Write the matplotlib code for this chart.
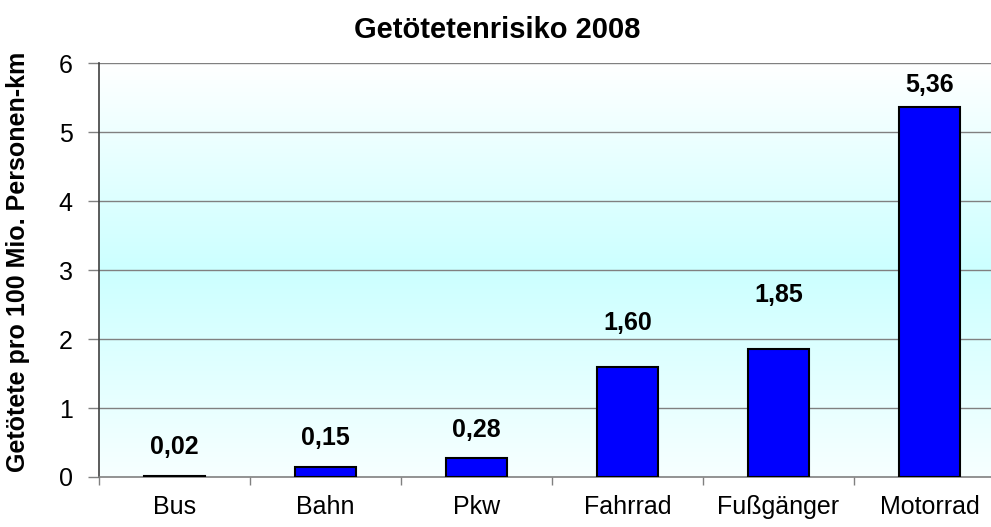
import numpy as np
import matplotlib
matplotlib.use("Agg")
import matplotlib.pyplot as plt
from matplotlib.colors import LinearSegmentedColormap

categories = ["Bus", "Bahn", "Pkw", "Fahrrad", "Fußgänger", "Motorrad"]
values = [0.02, 0.15, 0.28, 1.60, 1.85, 5.36]
value_labels = ["0,02", "0,15", "0,28", "1,60", "1,85", "5,36"]
y_ticks = [0, 1, 2, 3, 4, 5, 6]

# style: vertical placement of data labels above bar tops (data units)
label_offsets = [0.41, 0.41, 0.40, 0.63, 0.79, 0.32]

plt.rcParams['font.family'] = ['Liberation Sans', 'DejaVu Sans']

fig = plt.figure(figsize=(9.91, 5.27), dpi=100)
ax = fig.add_axes([99/991, 1 - 477/527, (1005 - 99)/991, (477 - 63)/527])

n = len(categories)
x = np.arange(n)
ax.set_xlim(-0.5, n - 0.5)
ax.set_ylim(0, 6)

# gradient background
cmap = LinearSegmentedColormap.from_list(
    "bg", [(0.0, "#F7FFFF"), (0.5, "#CCFFFF"), (1.0, "#FFFFFF")])
grad = np.linspace(0, 1, 256).reshape(-1, 1)
ax.imshow(grad, aspect="auto", cmap=cmap, origin="lower",
          extent=(-0.5, n - 0.5, 0, 6), zorder=0)

for yv in y_ticks[1:]:
    ax.axhline(yv, color="#808080", lw=1.0, zorder=1)

ax.bar(x, values, width=0.41, color="#0000FF", edgecolor="black",
       linewidth=1.5, zorder=3)

for xi, v, lab, off in zip(x, values, value_labels, label_offsets):
    ax.text(xi, v + off, lab, ha="center", va="center", fontsize=18,
            fontweight="bold", color="black", zorder=4)

ax.set_yticks(y_ticks)
ax.set_yticklabels([str(t) for t in y_ticks], fontsize=18)
ax.set_xticks(x)
ax.set_xticklabels(categories, fontsize=18)
ax.set_xticks(np.arange(n + 1) - 0.5, minor=True)
ax.tick_params(axis="x", which="major", length=0, pad=13)
ax.tick_params(axis="x", which="minor", length=6, width=1, color="#808080", direction="out")
ax.tick_params(axis="y", length=8, width=1, color="#808080", pad=11, direction="out")

for s in ["top", "right"]:
    ax.spines[s].set_visible(False)
ax.spines["left"].set_color("#404040")
ax.spines["left"].set_linewidth(1.2)
ax.spines["bottom"].set_color("#808080")
ax.spines["bottom"].set_linewidth(1.2)

fig.text(18/991, 1 - 262/527, "Getötete pro 100 Mio. Personen-km", rotation=90,
         ha="center", va="center", fontsize=18, fontweight="bold")
fig.text(497/991, 1 - 30/527, "Getötetenrisiko 2008", ha="center", va="center",
         fontsize=21, fontweight="bold")

fig.savefig("out.png", dpi=100)
